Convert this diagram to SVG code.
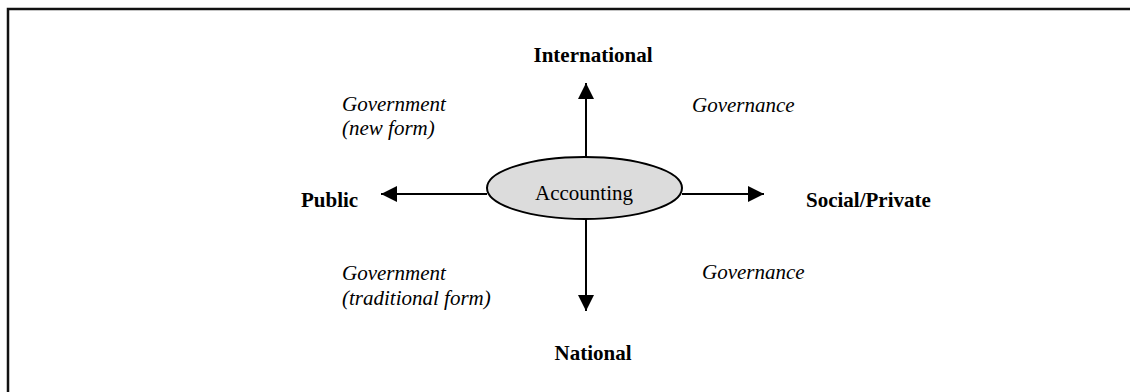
<svg xmlns="http://www.w3.org/2000/svg" width="1130" height="392" viewBox="0 0 1130 392">
<defs>
<style>
text{font-family:"Liberation Serif","Times New Roman",serif;font-size:21px;fill:#000}
.b{font-weight:bold}
.i{font-style:italic}
.c{text-anchor:middle}
.ln{stroke:#000;stroke-width:2;fill:none}
</style>
<marker id="ah" viewBox="0 0 16 16" refX="16" refY="8" markerWidth="16" markerHeight="16" markerUnits="userSpaceOnUse" orient="auto">
<path d="M0,0 L16,8 L0,16 Z" fill="#000"/>
</marker>
</defs>
<rect width="1130" height="392" fill="#fff"/>
<path d="M8,392 L8,9 L1130,9" stroke="#111" stroke-width="2.5" fill="none"/>
<g id="connectors">
<line class="ln" x1="586" y1="157" x2="586" y2="83" marker-end="url(#ah)"/>
<line class="ln" x1="586" y1="219" x2="586" y2="311" marker-end="url(#ah)"/>
<line class="ln" x1="487" y1="194" x2="381" y2="194" marker-end="url(#ah)"/>
<line class="ln" x1="682" y1="194" x2="764" y2="194" marker-end="url(#ah)"/>
</g>
<g id="accounting">
<ellipse cx="584.5" cy="188" rx="97.5" ry="31" fill="#dcdcdc" stroke="#000" stroke-width="2"/>
<text class="c" x="584" y="200">Accounting</text>
</g>
<g id="international"><text class="b c" x="593" y="62">International</text></g>
<g id="national"><text class="b c" x="593" y="360">National</text></g>
<g id="public"><text class="b" x="301" y="207">Public</text></g>
<g id="social-private"><text class="b" x="806" y="207">Social/Private</text></g>
<g id="gov-new"><text class="i" x="342" y="111">Government</text><text class="i" x="342" y="135">(new form)</text></g>
<g id="gov-trad"><text class="i" x="342" y="280">Government</text><text class="i" x="342" y="305">(traditional form)</text></g>
<g id="governance-top"><text class="i" x="692" y="112">Governance</text></g>
<g id="governance-bottom"><text class="i" x="702" y="279">Governance</text></g>
</svg>
